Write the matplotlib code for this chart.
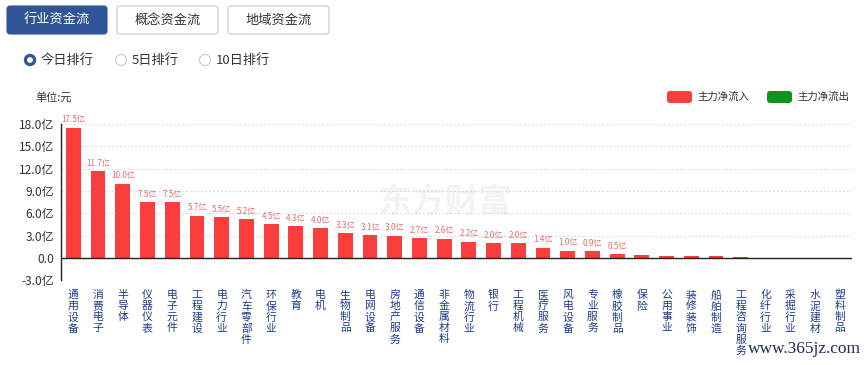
import matplotlib
matplotlib.use("Agg")
import matplotlib.pyplot as plt
from matplotlib.patches import FancyBboxPatch, Circle
import numpy as np

plt.rcParams['font.family'] = ['Noto Sans CJK SC', 'DejaVu Sans']

categories = ["通用设备", "消费电子", "半导体", "仪器仪表", "电子元件", "工程建设", "电力行业",
              "汽车零部件", "环保行业", "教育", "电机", "生物制品", "电网设备", "房地产服务",
              "通信设备", "非金属材料", "物流行业", "银行", "工程机械", "医疗服务", "风电设备",
              "专业服务", "橡胶制品", "保险", "公用事业", "装修装饰", "船舶制造", "工程咨询服务",
              "化纤行业", "采掘行业", "水泥建材", "塑料制品"]
values = [17.5, 11.7, 10.0, 7.5, 7.5, 5.7, 5.5, 5.2, 4.5, 4.3, 4.0, 3.3, 3.1, 3.0, 2.7, 2.6,
          2.2, 2.0, 2.0, 1.4, 1.0, 0.9, 0.5, 0.45, 0.3, 0.3, 0.2, 0.12, 0.0, -0.15, -0.15, -0.18]
n_labeled = 23
yticks = [-3, 0, 3, 6, 9, 12, 15, 18]
ytick_labels = ["-3.0亿", "0.0", "3.0亿", "6.0亿", "9.0亿", "12.0亿", "15.0亿", "18.0亿"]

RED = "#fa3d3d"
GREEN = "#0b961b"
W, H = 868, 365
fig = plt.figure(figsize=(W / 100, H / 100), dpi=100)

# overlay in pixel coordinates
ov = fig.add_axes([0, 0, 1, 1])
ov.set_xlim(0, W)
ov.set_ylim(H, 0)
ov.axis("off")
ov.set_zorder(0)

# tabs
tabs = [("行业资金流", 7, 107, True), ("概念资金流", 117, 218, False), ("地域资金流", 228, 329, False)]
for label, x0, x1, active in tabs:
    box = FancyBboxPatch((x0, 6), x1 - x0, 28, boxstyle="round,pad=0,rounding_size=3",
                         fc="#2f5597" if active else "white",
                         ec="#2f5597" if active else "#c8c8c8", lw=0.8)
    ov.add_patch(box)
    ov.text((x0 + x1) / 2, 20.5, label, ha="center", va="center", fontsize=9.5,
            color="white" if active else "#333333")

# radio buttons
radios = [("今日排行", 30, True), ("5日排行", 121, False), ("10日排行", 205, False)]
for label, cx, on in radios:
    if on:
        ov.add_patch(Circle((cx, 60), 5.5, fc="#2f5597", ec="#2f5597"))
        ov.add_patch(Circle((cx, 60), 2.2, fc="white", ec="white"))
    else:
        ov.add_patch(Circle((cx, 60), 5.5, fc="white", ec="#c8c8c8", lw=0.8))
    ov.text(cx + 11, 60, label, ha="left", va="center", fontsize=9.5, color="#333333")

ov.text(35, 97, "单位:元", ha="left", va="center", fontsize=8, color="#333333")

# legend
ov.add_patch(FancyBboxPatch((667, 91), 25, 12, boxstyle="round,pad=0,rounding_size=3",
                            fc=RED, ec="none"))
ov.text(697, 97, "主力净流入", ha="left", va="center", fontsize=7.5, color="#333333")
ov.add_patch(FancyBboxPatch((767, 91), 25, 12, boxstyle="round,pad=0,rounding_size=3",
                            fc=GREEN, ec="none"))
ov.text(797, 97, "主力净流出", ha="left", va="center", fontsize=7.5, color="#333333")

# watermarks
ov.text(445, 203, "东方财富", ha="center", va="center", fontsize=24, fontweight="bold",
        color="#f3f3f3", zorder=0.5)
ov.text(804, 349, "www.365jz.com", ha="center", va="center", fontsize=12.5,
        family=["Liberation Serif", "DejaVu Serif"], color="#1d2b5c", zorder=10)

# main axes
left, right = 61, 852
top, bottom = 124, 280.3
ax = fig.add_axes([left / W, (H - bottom) / H, (right - left) / W, (bottom - top) / H])
ax.set_zorder(1)
ax.patch.set_alpha(0)

x = np.arange(len(categories))
colors = [RED if v >= 0 else GREEN for v in values]
ax.bar(x, values, width=0.6, color=colors, zorder=3)
for i in range(n_labeled):
    ax.text(x[i], values[i] + 0.45, f"{values[i]:.1f}亿", ha="center", va="bottom",
            fontsize=5.8, color="#e36b6b", zorder=4)

ax.set_xlim(-0.5, len(categories) - 0.5)
ax.set_ylim(-3, 18)
ax.set_yticks(yticks)
ax.set_yticklabels(ytick_labels, fontsize=8.6, color="#333333")
ax.tick_params(axis="y", length=0, pad=5)
for t in yticks:
    if t != 0:
        ax.axhline(t, color="#d8d8d8", lw=0.8, ls=(0, (1.5, 2)), zorder=1)
ax.axhline(0, color="#222222", lw=1.0, zorder=4)

ax.set_xticks(x)
ax.set_xticklabels(["\n".join(c) for c in categories], fontsize=7.8, color="#1f3b8c",
                   va="top", linespacing=1.12)
ax.tick_params(axis="x", length=0, pad=7)

for s in ["top", "right", "bottom"]:
    ax.spines[s].set_visible(False)
ax.spines["left"].set_color("#222222")
ax.spines["left"].set_linewidth(1.0)

fig.savefig("out.png", dpi=100)
